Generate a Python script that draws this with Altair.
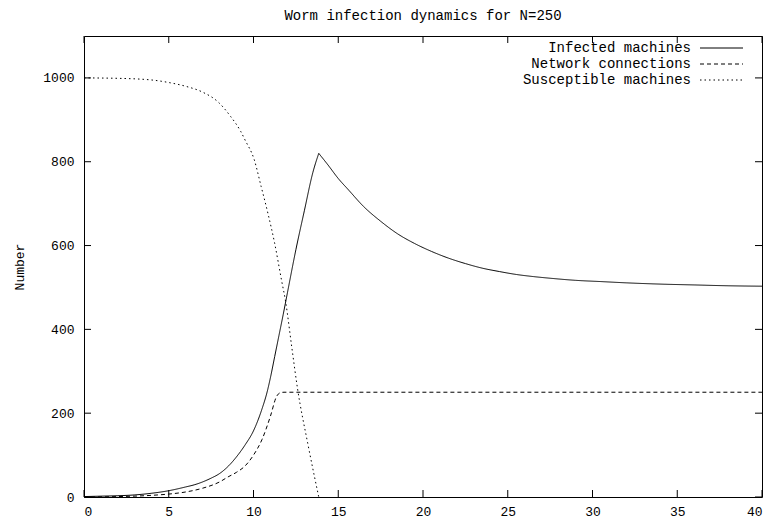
import altair as alt
import pandas as pd

# ---- data ----
infected_x = [0, 1, 2, 3, 4, 5, 6, 6.5, 7, 7.5, 8, 8.5, 9, 9.5, 10, 10.5, 10.8, 11, 11.25,
              11.5, 11.75, 12, 12.5, 13, 13.5, 13.85, 14.4, 15, 15.6, 16.5, 17.5, 18.5, 19.5,
              20.5, 21.5, 22.5, 23.5, 24.5, 25.5, 26.5, 27.5, 29, 30.5, 32, 34, 36, 38, 40]
infected_y = [1, 2, 3, 5, 9, 15, 24, 29, 36, 45, 56, 73, 96, 124, 158, 210, 250, 285, 335,
              385, 435, 487, 590, 683, 774, 820, 792, 760, 733, 693, 658, 628, 605,
              586, 570, 557, 546, 538, 531, 526, 522, 517, 514, 511, 508, 506, 504, 503]

network_x = [0, 2, 4, 5, 6, 7, 8, 8.5, 9, 9.5, 10, 10.5, 11, 11.35, 11.6, 11.8, 40]
network_y = [0, 1, 4, 7, 12, 21, 36, 48, 59, 74, 100, 137, 193, 239, 249, 250, 250]

susceptible_x = [0, 2, 4, 5, 6, 7, 7.9, 8.65, 9.25, 9.5, 10.05, 10.45, 10.85, 11.25, 11.65,
                 11.9, 12.25, 12.6, 13.2, 13.6, 13.85]
susceptible_y = [1000, 999, 995, 989, 980, 966, 943, 908, 872, 852, 804, 741, 677, 605, 518,
                 465, 360, 258, 128, 48, 0]

series_names = ["Infected machines", "Network connections", "Susceptible machines"]
x_ticks = [0, 5, 10, 15, 20, 25, 30, 35, 40]
y_ticks = [0, 200, 400, 600, 800, 1000]

# ---- layout / style ----
W, H = 678, 461
FONT = "Liberation Mono"
TICK = 7
dashes = [[1, 0], [4, 3], [1.5, 3]]

xs = alt.Scale(domain=[0, 40], nice=False, zero=False)
ys = alt.Scale(domain=[0, 1100], nice=False)

def line_layer(xv, yv, dash, interp):
    df = pd.DataFrame({"x": xv, "y": yv})
    return alt.Chart(df).mark_line(color="black", strokeWidth=1, strokeDash=dash,
                                   interpolate=interp).encode(
        x=alt.X("x:Q", scale=xs, axis=alt.Axis(values=x_ticks, title=None, ticks=False,
                                                 grid=False, labelPadding=8, domain=False,
                                                 format="d")),
        y=alt.Y("y:Q", scale=ys, axis=alt.Axis(values=y_ticks, title="Number", ticks=False,
                                                 grid=False, labelPadding=10, domain=False,
                                                 format="d", titleX=-58,
                                                 titleFontWeight="normal")),
    )

# infected: rising and decaying parts drawn separately so the peak stays sharp
pk = infected_y.index(max(infected_y))
l1a = line_layer(infected_x[:pk + 1], infected_y[:pk + 1], dashes[0], "monotone")
l1b = line_layer(infected_x[pk:], infected_y[pk:], dashes[0], "monotone")
l2 = line_layer(network_x, network_y, dashes[1], "monotone")
l3 = line_layer(susceptible_x, susceptible_y, dashes[2], "monotone")

xt = pd.DataFrame({"t": x_ticks})
yt = pd.DataFrame({"t": y_ticks})
tick_bottom = alt.Chart(xt).mark_rule(color="black").encode(
    x=alt.X("t:Q", scale=xs), y=alt.value(H), y2=alt.value(H - TICK))
tick_top = alt.Chart(xt).mark_rule(color="black").encode(
    x=alt.X("t:Q", scale=xs), y=alt.value(0), y2=alt.value(TICK))
tick_left = alt.Chart(yt).mark_rule(color="black").encode(
    y=alt.Y("t:Q", scale=ys), x=alt.value(0), x2=alt.value(TICK))
tick_right = alt.Chart(yt).mark_rule(color="black").encode(
    y=alt.Y("t:Q", scale=ys), x=alt.value(W), x2=alt.value(W - TICK))

# legend (top right, inside)
leg_layers = []
row_y = [12, 28, 44]
for name, dash, ry in zip(series_names, dashes, row_y):
    ldf = pd.DataFrame({"label": [name]})
    leg_layers.append(alt.Chart(ldf).mark_text(
        align="right", baseline="middle", font=FONT, fontSize=14, color="black").encode(
        text="label:N", x=alt.value(607), y=alt.value(ry)))
    leg_layers.append(alt.Chart(ldf).mark_rule(color="black", strokeWidth=1, strokeDash=dash).encode(
        x=alt.value(616), x2=alt.value(659), y=alt.value(ry)))

chart = alt.layer(l1a, l1b, l2, l3, tick_bottom, tick_top, tick_left, tick_right,
                  *leg_layers).properties(
    width=W, height=H,
    background="white",
    title=alt.TitleParams("Worm infection dynamics for N=250", font=FONT, fontSize=14,
                          fontWeight="normal", anchor="middle", offset=13, color="black"),
    padding={"left": 5, "top": 0, "right": 3, "bottom": 5},
).configure_view(stroke="black", strokeWidth=1).configure_axis(
    labelFont=FONT, labelFontSize=13, labelColor="black", titleFont=FONT, titleFontSize=13,
    titleColor="black",
)

chart.save("out.html", embed_options={"renderer": "svg", "actions": False})
